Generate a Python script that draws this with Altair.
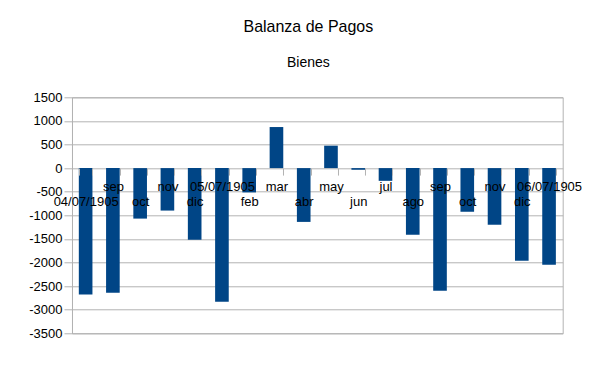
import altair as alt
import pandas as pd

labels = ["04/07/1905", "sep", "oct", "nov", "dic", "05/07/1905", "feb", "mar", "abr",
          "may", "jun", "jul", "ago", "sep", "oct", "nov", "dic", "06/07/1905"]
values = [-2680, -2640, -1070, -900, -1520, -2830, -515, 870, -1140,
          475, -35, -270, -1410, -2600, -925, -1200, -1965, -2050]
y_ticks = [-3500, -3000, -2500, -2000, -1500, -1000, -500, 0, 500, 1000, 1500]

df = pd.DataFrame({"idx": list(range(len(labels))), "label": labels, "value": values})

label_js = "[" + ",".join("'" + l + "'" for l in labels) + "]"
label_expr = (f"datum.value % 2 == 0 ? ['', {label_js}[datum.value]] "
              f": {label_js}[datum.value]")

W, H = 490.7, 236
GRAY = "#b3b3b3"
FONT = "Liberation Sans"

chart = alt.Chart(df).mark_bar(color="#004586").encode(
    x=alt.X(
        "idx:O",
        scale=alt.Scale(paddingInner=0.5, paddingOuter=0.25),
        axis=alt.Axis(
            title=None, orient="bottom", offset=-165.2, labelExpr=label_expr,
            labelAngle=0, domain=False, ticks=True, tickBand="extent", tickSize=7,
            tickColor=GRAY, labelPadding=5.5, labelLineHeight=14.8, labelFontSize=13,
            labelColor="black", labelFont=FONT, labelOverlap=False, zindex=1, grid=False,
        ),
    ),
    y=alt.Y(
        "value:Q",
        scale=alt.Scale(domain=[-3500, 1500], nice=False, zero=False),
        axis=alt.Axis(
            title=None, values=y_ticks, labelExpr="datum.value + ''", tickSize=8,
            tickColor=GRAY, domainColor=GRAY, gridColor=GRAY, labelPadding=2,
            labelFontSize=13, labelColor="black", labelFont=FONT,
        ),
    ),
    tooltip=["label", "value"],
).properties(
    width=W,
    height=H,
    padding={"left": 64, "top": 89.3, "right": 34, "bottom": 24},
    autosize=alt.AutoSizeParams(type="none"),
    title=alt.TitleParams(
        "Balanza de Pagos", subtitle="Bienes", fontSize=16, subtitleFontSize=14,
        font=FONT, subtitleFont=FONT, color="black", subtitleColor="black",
        fontWeight="normal", anchor="middle", dx=-9, offset=21, subtitlePadding=21,
    ),
).configure_view(stroke=GRAY)

chart.save("out.html", embed_options={"renderer": "svg", "actions": False})
